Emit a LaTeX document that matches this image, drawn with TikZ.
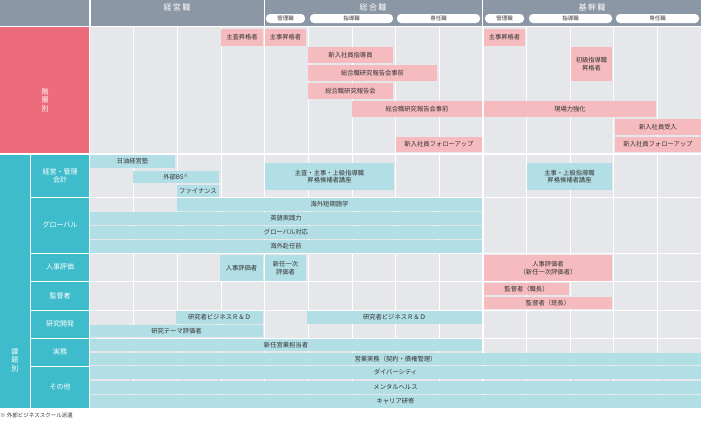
\documentclass[tikz,border=0pt]{standalone}
\usepackage{fontspec}
\setmainfont{Noto Sans CJK JP}
\definecolor{hdgray}{HTML}{8C97A6}
\definecolor{catred}{HTML}{EC6C7B}
\definecolor{catteal}{HTML}{3FBCCB}
\definecolor{barred}{HTML}{F6BBBE}
\definecolor{barblue}{HTML}{B2DEE5}
\definecolor{bgray}{HTML}{E6E7EB}
\tikzset{
  cell/.style={inner sep=0pt, align=center, font=\fontsize{6.3}{7.5}\selectfont, text=black!80},
  rbar/.style={cell, fill=barred},
  bbar/.style={cell, fill=barblue},
  cat/.style={cell, text=white, font=\fontsize{7}{8.5}\selectfont},
  pill/.style={cell, fill=white, rounded corners=4pt, font=\fontsize{5.5}{6}\selectfont},
}
% box from (x1,y1) to (x2,y2), pixel units, y downwards
\newcommand{\bx}[7]{\node[#2, minimum width={(#5-#3)*1pt}, minimum height={(#6-#4)*1pt}]
  (#1) at ({(#3+#5)/2},{(#4+#6)/2}) {#7};}
\begin{document}
\begin{tikzpicture}[x=1pt,y=-1pt]
	\useasboundingbox (0,0) rectangle (701,426);

	% header
	\fill[hdgray] (0,0) rectangle (701,26);
	\fill[bgray] (90,27) rectangle (701,408);
	\foreach \i in {1,...,13}
		\draw[white, line width=0.4pt] ({90+\i*43.64},27) -- ({90+\i*43.64},408);
	\draw[white, line width=1.2pt] (264.6,0) -- (264.6,408);
	\draw[white, line width=1.2pt] (482.8,0) -- (482.8,408);
	\draw[white, line width=1.2pt] (90,0) -- (90,26);
	\draw[white, line width=1.5pt] (0,26.5) -- (701,26.5);
	\draw[white, line width=1.5pt] (0,154) -- (701,154);

	\node[cat, font=\fontsize{8}{9}\selectfont] (keiei) at (177,7) {経\,営\,職};
	\node[cat, font=\fontsize{8}{9}\selectfont] (sogo) at (373,7) {総\,合\,職};
	\node[cat, font=\fontsize{8}{9}\selectfont] (kikan) at (592,7) {基\,幹\,職};
	\bx{sgkanri}{pill}{266}{14}{305}{23}{管理職}
	\bx{sgshido}{pill}{310}{14}{393}{23}{指導職}
	\bx{sgsenin}{pill}{397}{14}{480}{23}{専任職}
	\bx{kkkanri}{pill}{485}{14}{524}{23}{管理職}
	\bx{kkshido}{pill}{529}{14}{612}{23}{指導職}
	\bx{kksenin}{pill}{616}{14}{699}{23}{専任職}

	% categories
	\fill[catred] (0,27) rectangle (89,153);
	\node[cat] (kaiso) at (45,100) {階\\層\\別};
	\fill[catteal] (0,155) rectangle (89,408);
	\draw[white, line width=0.8pt] (30,155) -- (30,408);
	\node[cat] (kadai) at (15,360) {課\\題\\別};
	\foreach \ya/\yb/\t in {155/197/{経営・管理\\会計},197/253/グローバル,253/281/人事評価,
		281/310/監督者,310/338/研究開発,338/366/実務,366/408/その他} {
		\node[cat] at (60,{(\ya+\yb)/2}) {\t};
		\draw[white, line width=0.8pt] (30,\yb) -- (701,\yb);
	}

	% kaisobetsu
	\bx{shusa}{rbar}{221}{29}{263}{46}{主査昇格者}
	\bx{shuji}{rbar}{265}{29}{306}{46}{主事昇格者}
	\bx{shidoin}{rbar}{308}{47}{393}{63}{新入社員指導員}
	\bx{jizen}{rbar}{308}{65}{437}{81}{総合職研究報告会事前}
	\bx{hokoku}{rbar}{308}{83}{393}{99}{総合職研究報告会}
	\bx{jizenb}{rbar}{352}{101}{482}{117}{総合職研究報告会事前}
	\bx{followa}{rbar}{396}{137}{482}{152}{新入社員フォローアップ}
	\bx{shujib}{rbar}{484}{29}{525}{46}{主事昇格者}
	\bx{shokyu}{rbar}{571}{47}{612}{81}{初級指導職\\昇格者}
	\bx{genba}{rbar}{484}{101}{656}{117}{現場力強化}
	\bx{ukeire}{rbar}{615}{119}{701}{135}{新入社員受入}
	\bx{followb}{rbar}{615}{137}{701}{152}{新入社員フォローアップ}

	% kadaibetsu
	\bx{juku}{bbar}{90}{155}{175}{168}{日油経営塾}
	\bx{bs}{bbar}{133}{171}{219}{183}{外部BS\textsuperscript{※}}
	\bx{finance}{bbar}{177}{185}{219}{197}{ファイナンス}
	\bx{koza}{bbar}{265}{163}{394}{190}{主査・主事・上級指導職\\昇格候補者講座}
	\bx{kozab}{bbar}{527}{163}{612}{190}{主事・上級指導職\\昇格候補者講座}
	\bx{gogaku}{bbar}{177}{198}{482}{211}{海外短期語学}
	\bx{eigo}{bbar}{90}{212}{482}{225}{英語実践力}
	\bx{global}{bbar}{90}{226}{482}{239}{グローバル対応}
	\bx{funin}{bbar}{90}{240}{482}{253}{海外赴任前}
	\bx{hyoka}{bbar}{220}{255}{263}{281}{人事評価者}
	\bx{ichiji}{bbar}{265}{255}{306}{281}{新任一次\\評価者}
	\bx{hyokab}{rbar}{484}{255}{612}{281}{人事評価者\\（新任一次評価者）}
	\bx{shokucho}{rbar}{484}{283}{569}{295}{監督者（職長）}
	\bx{hancho}{rbar}{484}{297}{612}{309}{監督者（班長）}
	\bx{rda}{bbar}{176}{311}{263}{324}{研究者ビジネスＲ＆Ｄ}
	\bx{rdb}{bbar}{307}{311}{482}{324}{研究者ビジネスＲ＆Ｄ}
	\bx{theme}{bbar}{90}{325}{263}{337}{研究テーマ評価者}
	\bx{eigyo}{bbar}{90}{339}{482}{351}{新任営業担当者}
	\bx{jitsumu}{bbar}{90}{353}{701}{365}{営業実務（契約・債権管理）}
	\bx{diversity}{bbar}{90}{366}{701}{379}{ダイバーシティ}
	\bx{mental}{bbar}{90}{381}{701}{394}{メンタルヘルス}
	\bx{career}{bbar}{90}{395}{701}{408}{キャリア研修}

	\node[cell, anchor=west, font=\fontsize{5.5}{6}\selectfont] (note) at (0,415) {※ 外部ビジネススクール派遣};
\end{tikzpicture}
\end{document}
